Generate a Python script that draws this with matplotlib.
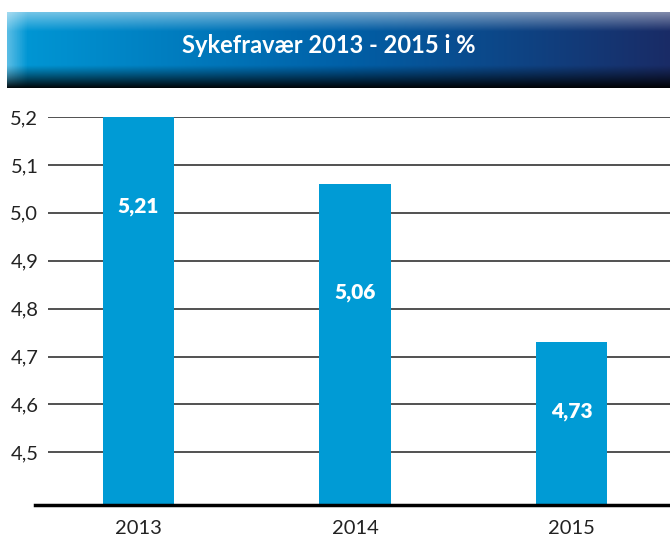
import matplotlib
matplotlib.use("Agg")
import matplotlib.pyplot as plt
import numpy as np
from matplotlib.lines import Line2D

# data
years = ["2013", "2014", "2015"]
values = [5.21, 5.06, 4.73]
value_labels = ["5,21", "5,06", "4,73"]
y_ticks = [4.5, 4.6, 4.7, 4.8, 4.9, 5.0, 5.1, 5.2]
y_tick_labels = ["4,5", "4,6", "4,7", "4,8", "4,9", "5,0", "5,1", "5,2"]
title = "Sykefravær 2013 - 2015 i %"

# where the white value labels sit inside the bars (data units)
label_heights = [5.013, 4.833, 4.585]

BAR_COLOR = "#009bd5"
W, H = 670, 540

plt.rcParams["font.family"] = ["Lato", "DejaVu Sans"]
fig = plt.figure(figsize=(W / 100, H / 100), dpi=100)


def fig_box(x0, y0, x1, y1):
    # pixel box (top-left origin) -> figure rect
    return [x0 / W, 1 - y1 / H, (x1 - x0) / W, (y1 - y0) / H]


# --- header banner: blue gradient with a bevel look ---
bx = fig.add_axes(fig_box(7, 12, 670, 88))
nx, ny = 400, 120
t = np.linspace(0, 1, nx)[None, :, None]
left = np.array([0.00, 0.60, 0.84])
mid = np.array([0.00, 0.38, 0.66])
right = np.array([0.10, 0.17, 0.40])
row = np.where(t < 0.5, left + (mid - left) * (t / 0.5), mid + (right - mid) * ((t - 0.5) / 0.5))
img = np.repeat(row, ny, axis=0)
v = np.linspace(0, 1, ny)[:, None, None]
hi = np.clip(1 - v / 0.25, 0, 1) * 0.45
img = img + (1 - img) * hi
sh = np.clip((v - 0.70) / 0.30, 0, 1) ** 1.1 * 0.95
img = img * (1 - sh)
# lighter left edge
u = np.linspace(0, 1, nx)[None, :, None]
edge = np.clip(1 - u / 0.03, 0, 1) * 0.35
img = img + (1 - img) * edge * (1 - sh)
bx.imshow(np.clip(img, 0, 1), aspect="auto", extent=(0, 1, 0, 1))
bx.axis("off")
bx.text(0.485, 0.56, title, color="white", fontsize=17, fontweight="bold",
        ha="center", va="center", transform=bx.transAxes)

# --- bar chart ---
ax = fig.add_axes(fig_box(48, 117, 670, 505))
x = np.arange(len(years))
ax.bar(x, values, width=0.33, color=BAR_COLOR, zorder=2)
ax.set_ylim(4.39, 5.2)
ax.set_xlim(-0.418, 2.455)
ax.set_yticks(y_ticks)
ax.set_yticklabels(y_tick_labels, fontsize=14.5, color="#222222")
ax.set_xticks(x)
ax.set_xticklabels(years, fontsize=14.5, color="#222222")
ax.tick_params(axis="both", length=0, pad=7)
ax.tick_params(axis="x", pad=11)
ax.yaxis.grid(True, color="#222222", linewidth=1.1, zorder=1)
for s in ax.spines.values():
    s.set_visible(False)

for xi, txt, yl in zip(x, value_labels, label_heights):
    ax.text(xi, yl, txt, color="white", fontsize=15, fontweight="heavy",
            ha="center", va="center", zorder=3)

# thick baseline reaching a bit left of the gridlines
fig.add_artist(Line2D([35 / W, 1], [1 - 505 / H, 1 - 505 / H], color="black", linewidth=2.5))

fig.savefig("out.png", dpi=100)
